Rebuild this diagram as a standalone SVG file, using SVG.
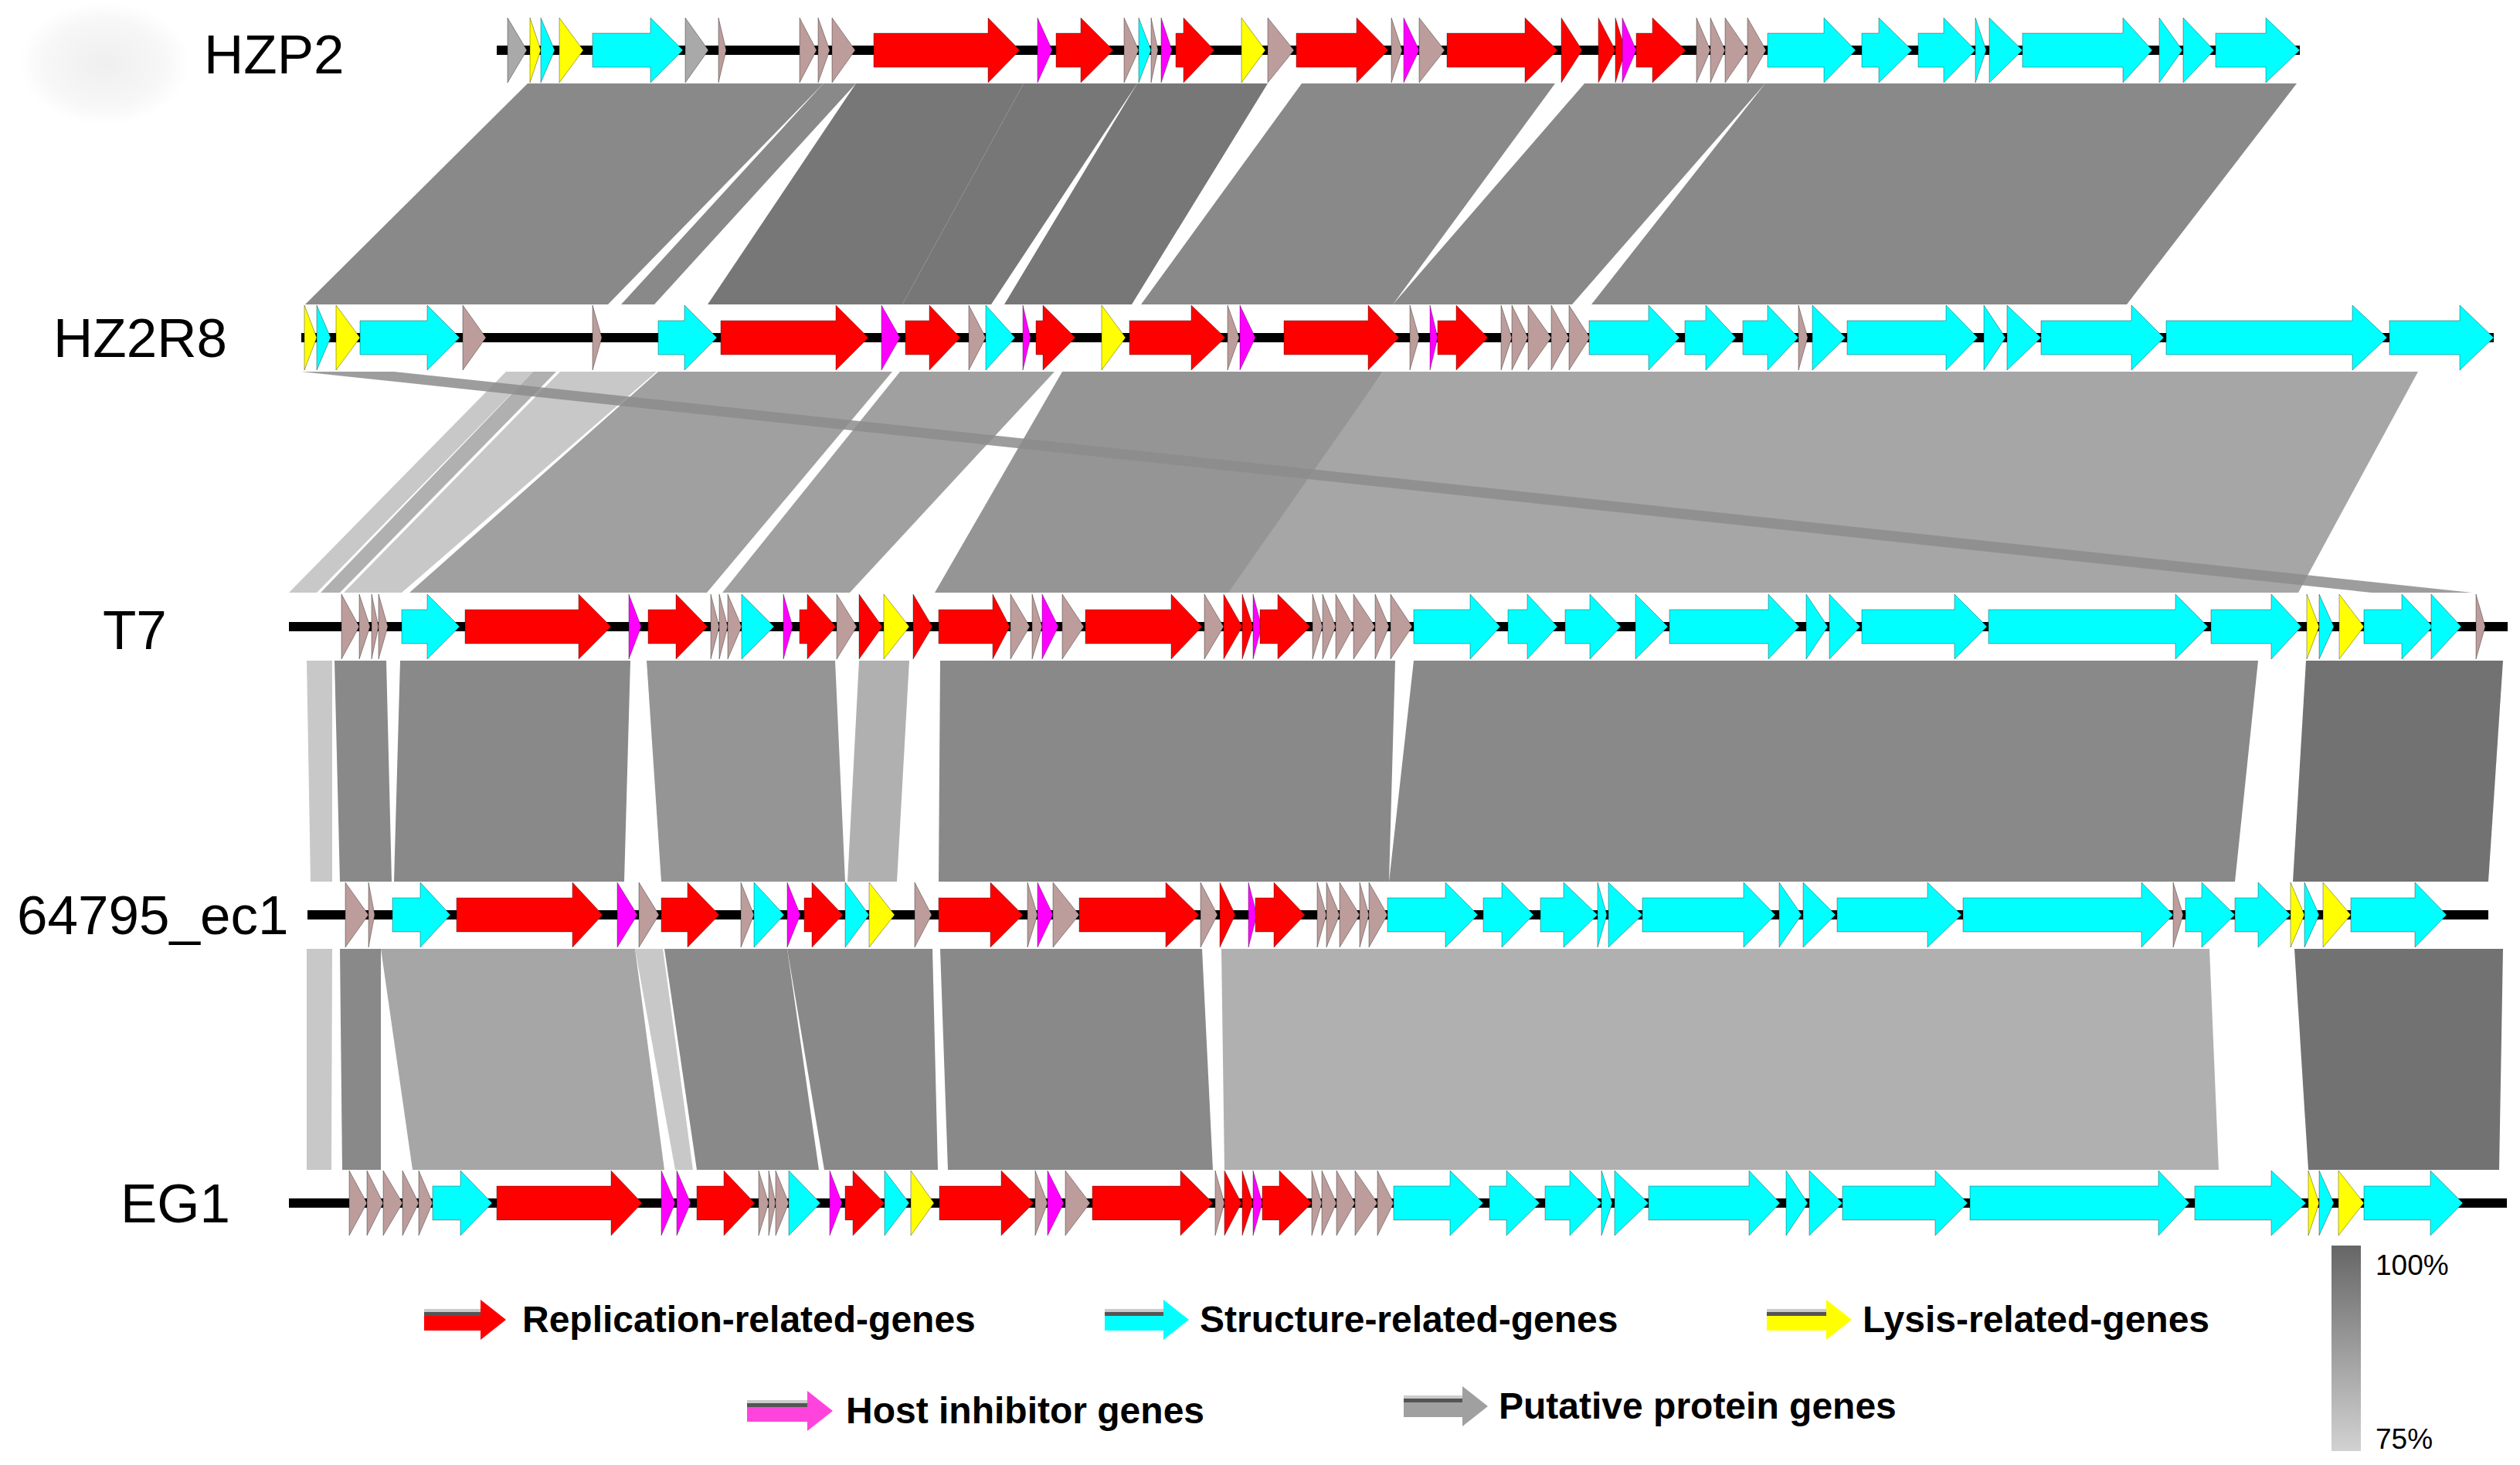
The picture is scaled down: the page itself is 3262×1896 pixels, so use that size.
<svg xmlns="http://www.w3.org/2000/svg" width="3262" height="1896" viewBox="0 0 3262 1896">
<style>
.lbl{font-family:"Liberation Sans",Arial,sans-serif;font-size:71px;fill:#000}
.leg{font-family:"Liberation Sans",Arial,sans-serif;font-size:48px;font-weight:bold;fill:#000}
.pct{font-family:"Liberation Sans",Arial,sans-serif;font-size:37px;fill:#000}
.ln{fill:#000}
.genes polygon{stroke:#000;stroke-opacity:.35;stroke-width:1}
.r{fill:#ff0000}.c{fill:#00ffff}.y{fill:#ffff00}.m{fill:#ff00ff}.b{fill:#bc9d9b}.g{fill:#a9a9a9}
.k1{fill:#898989}.k2{fill:#777777}.k3{fill:#a0a0a0}.k4{fill:#b0b0b0}.k5{fill:#c8c8c8}.k6{fill:#727272}.k7{fill:#a6a6a6}.k8{fill:#959595}
</style>
<defs>
<radialGradient id="blob" cx="0.5" cy="0.5" r="0.5">
<stop offset="0" stop-color="#efefef"/><stop offset="0.7" stop-color="#f7f7f7"/><stop offset="1" stop-color="#ffffff"/>
</radialGradient>
<linearGradient id="scale" x1="0" y1="0" x2="0" y2="1">
<stop offset="0" stop-color="#666666"/><stop offset="1" stop-color="#d2d2d2"/>
</linearGradient>
</defs>
<rect width="3262" height="1896" fill="#ffffff"/>
<ellipse cx="135" cy="82" rx="110" ry="80" fill="url(#blob)"/>

<g id="comparisons">
<!-- HZP2 -> HZ2R8 -->
<polygon class="k1" points="683,108 1066,108 787,394 395,394"/>
<polygon class="k1" points="1066,108 1108,108 847,394 804,394"/>
<polygon class="k2" points="1108,108 1325,108 1168,394 916,394"/>
<polygon class="k2" points="1325,108 1472,108 1283,394 1168,394"/>
<polygon class="k2" points="1472,108 1641,108 1465,394 1300,394"/>
<polygon class="k1" points="1685,108 2013,108 1803,394 1477,394"/>
<polygon class="k1" points="2051,108 2285,108 2035,394 1803,394"/>
<polygon class="k1" points="2285,108 2973,108 2753,394 2060,394"/>
<!-- HZ2R8 -> T7 -->
<polygon class="k5" points="655,481 690,481 410,767 374,767"/>
<polygon class="k4" points="690,481 720,481 440,767 415,767"/>
<polygon class="k5" points="725,481 850,481 520,767 445,767"/>
<polygon class="k3" points="852,481 1155,481 915,767 530,767"/>
<polygon class="k3" points="1165,481 1365,481 1100,767 935,767"/>
<polygon class="k8" points="1375,481 1790,481 1600,767 1210,767"/>
<polygon class="k7" points="1790,481 3130,481 2975,767 1590,767"/>
<polygon fill="#8c8c8c" fill-opacity="0.85" points="390,481 510,481 3200,767 3070,767"/>
<!-- T7 -> 64795_ec1 -->
<polygon class="k5" points="397,855 430,855 430,1141 402,1141"/>
<polygon class="k1" points="433,855 500,855 507,1141 440,1141"/>
<polygon class="k1" points="518,855 816,855 808,1141 510,1141"/>
<polygon class="k8" points="837,855 1081,855 1094,1141 856,1141"/>
<polygon class="k4" points="1112,855 1177,855 1161,1141 1097,1141"/>
<polygon class="k1" points="1217,855 1806,855 1798,1141 1215,1141"/>
<polygon class="k1" points="1830,855 2923,855 2893,1141 1798,1141"/>
<polygon class="k6" points="2985,855 3240,855 3221,1141 2968,1141"/>
<!-- 64795_ec1 -> EG1 -->
<polygon class="k5" points="397,1228 430,1228 429,1514 397,1514"/>
<polygon class="k1" points="440,1228 493,1228 493,1514 443,1514"/>
<polygon class="k7" points="493,1228 822,1228 860,1514 534,1514"/>
<polygon class="k5" points="822,1228 858,1228 897,1514 874,1514"/>
<polygon class="k1" points="860,1228 1019,1228 1060,1514 902,1514"/>
<polygon class="k1" points="1019,1228 1207,1228 1214,1514 1067,1514"/>
<polygon class="k1" points="1217,1228 1556,1228 1570,1514 1227,1514"/>
<polygon class="k4" points="1581,1228 2860,1228 2872,1514 1585,1514"/>
<polygon class="k6" points="2970,1228 3240,1228 3235,1514 2988,1514"/>
</g>

<g id="track-HZP2">
<text class="lbl" x="264" y="95">HZP2</text>
<rect class="ln" x="643" y="59" width="2334" height="12"/>
<g class="genes">
<polygon class="g" points="657,23 682,65 657,107"/>
<polygon class="y" points="686,23 700,65 686,107"/>
<polygon class="c" points="700,23 718,65 700,107"/>
<polygon class="y" points="724,23 755,65 724,107"/>
<polygon class="c" points="767,43 842,43 842,23 884,65 842,107 842,87 767,87"/>
<polygon class="g" points="887,23 917,65 887,107"/>
<polygon class="b" points="930,23 940,65 930,107"/>
<polygon class="b" points="1035,23 1057,65 1035,107"/>
<polygon class="b" points="1059,23 1074,65 1059,107"/>
<polygon class="b" points="1077,23 1107,65 1077,107"/>
<polygon class="r" points="1131,43 1279,43 1279,23 1320,65 1279,107 1279,87 1131,87"/>
<polygon class="m" points="1343,23 1362,65 1343,107"/>
<polygon class="r" points="1367,43 1399,43 1399,23 1441,65 1399,107 1399,87 1367,87"/>
<polygon class="b" points="1455,23 1474,65 1455,107"/>
<polygon class="c" points="1474,23 1490,65 1474,107"/>
<polygon class="b" points="1490,23 1499,65 1490,107"/>
<polygon class="m" points="1503,23 1517,65 1503,107"/>
<polygon class="r" points="1522,43 1532,43 1532,23 1572,65 1532,107 1532,87 1522,87"/>
<polygon class="y" points="1607,23 1638,65 1607,107"/>
<polygon class="b" points="1641,23 1675,65 1641,107"/>
<polygon class="r" points="1678,43 1756,43 1756,23 1797,65 1756,107 1756,87 1678,87"/>
<polygon class="b" points="1801,23 1815,65 1801,107"/>
<polygon class="m" points="1817,23 1837,65 1817,107"/>
<polygon class="b" points="1837,23 1870,65 1837,107"/>
<polygon class="r" points="1873,43 1974,43 1974,23 2016,65 1974,107 1974,87 1873,87"/>
<polygon class="r" points="2021,23 2048,65 2021,107"/>
<polygon class="r" points="2069,23 2091,65 2069,107"/>
<polygon class="r" points="2091,23 2104,65 2091,107"/>
<polygon class="m" points="2100,23 2118,65 2100,107"/>
<polygon class="r" points="2118,43 2139,43 2139,23 2182,65 2139,107 2139,87 2118,87"/>
<polygon class="b" points="2196,23 2214,65 2196,107"/>
<polygon class="b" points="2214,23 2233,65 2214,107"/>
<polygon class="b" points="2233,23 2262,65 2233,107"/>
<polygon class="b" points="2262,23 2286,65 2262,107"/>
<polygon class="c" points="2288,43 2361,43 2361,23 2402,65 2361,107 2361,87 2288,87"/>
<polygon class="c" points="2410,43 2432,43 2432,23 2475,65 2432,107 2432,87 2410,87"/>
<polygon class="c" points="2483,43 2516,43 2516,23 2557,65 2516,107 2516,87 2483,87"/>
<polygon class="c" points="2557,23 2571,65 2557,107"/>
<polygon class="c" points="2575,23 2618,65 2575,107"/>
<polygon class="c" points="2618,43 2748,43 2748,23 2786,65 2748,107 2748,87 2618,87"/>
<polygon class="c" points="2795,23 2825,65 2795,107"/>
<polygon class="c" points="2826,23 2866,65 2826,107"/>
<polygon class="c" points="2868,43 2933,43 2933,23 2977,65 2933,107 2933,87 2868,87"/>
</g>
</g>

<g id="track-HZ2R8">
<text class="lbl" x="69" y="462">HZ2R8</text>
<rect class="ln" x="390" y="431" width="2838" height="12"/>
<g class="genes">
<polygon class="y" points="394,395 410,437 394,479"/>
<polygon class="c" points="410,395 428,437 410,479"/>
<polygon class="y" points="435,395 466,437 435,479"/>
<polygon class="c" points="466,415 553,415 553,395 595,437 553,479 553,459 466,459"/>
<polygon class="b" points="599,395 629,437 599,479"/>
<polygon class="b" points="767,395 779,437 767,479"/>
<polygon class="c" points="852,415 886,415 886,395 928,437 886,479 886,459 852,459"/>
<polygon class="r" points="933,415 1082,415 1082,395 1124,437 1082,479 1082,459 933,459"/>
<polygon class="m" points="1141,395 1165,437 1141,479"/>
<polygon class="r" points="1172,415 1203,415 1203,395 1243,437 1203,479 1203,459 1172,459"/>
<polygon class="b" points="1254,395 1276,437 1254,479"/>
<polygon class="c" points="1276,395 1314,437 1276,479"/>
<polygon class="m" points="1324,395 1334,437 1324,479"/>
<polygon class="r" points="1341,415 1350,415 1350,395 1392,437 1350,479 1350,459 1341,459"/>
<polygon class="y" points="1426,395 1457,437 1426,479"/>
<polygon class="r" points="1462,415 1542,415 1542,395 1586,437 1542,479 1542,459 1462,459"/>
<polygon class="b" points="1589,395 1604,437 1589,479"/>
<polygon class="m" points="1605,395 1625,437 1605,479"/>
<polygon class="r" points="1662,415 1771,415 1771,395 1811,437 1771,479 1771,459 1662,459"/>
<polygon class="b" points="1825,395 1837,437 1825,479"/>
<polygon class="m" points="1851,395 1861,437 1851,479"/>
<polygon class="r" points="1861,415 1885,415 1885,395 1926,437 1885,479 1885,459 1861,459"/>
<polygon class="b" points="1943,395 1957,437 1943,479"/>
<polygon class="b" points="1957,395 1978,437 1957,479"/>
<polygon class="b" points="1978,395 2008,437 1978,479"/>
<polygon class="b" points="2008,395 2031,437 2008,479"/>
<polygon class="b" points="2031,395 2058,437 2031,479"/>
<polygon class="c" points="2057,415 2134,415 2134,395 2174,437 2134,479 2134,459 2057,459"/>
<polygon class="c" points="2181,415 2208,415 2208,395 2247,437 2208,479 2208,459 2181,459"/>
<polygon class="c" points="2256,415 2288,415 2288,395 2328,437 2288,479 2288,459 2256,459"/>
<polygon class="b" points="2328,395 2340,437 2328,479"/>
<polygon class="c" points="2346,395 2389,437 2346,479"/>
<polygon class="c" points="2391,415 2519,415 2519,395 2560,437 2519,479 2519,459 2391,459"/>
<polygon class="c" points="2568,395 2596,437 2568,479"/>
<polygon class="c" points="2598,395 2642,437 2598,479"/>
<polygon class="c" points="2642,415 2759,415 2759,395 2801,437 2759,479 2759,459 2642,459"/>
<polygon class="c" points="2804,415 3045,415 3045,395 3090,437 3045,479 3045,459 2804,459"/>
<polygon class="c" points="3093,415 3184,415 3184,395 3228,437 3184,479 3184,459 3093,459"/>
</g>
</g>

<g id="track-T7">
<text class="lbl" x="133" y="840">T7</text>
<rect class="ln" x="374" y="805" width="2872" height="12"/>
<g class="genes">
<polygon class="b" points="442,769 465,811 442,853"/>
<polygon class="b" points="465,769 479,811 465,853"/>
<polygon class="b" points="481,769 490,811 481,853"/>
<polygon class="b" points="490,769 502,811 490,853"/>
<polygon class="c" points="520,789 553,789 553,769 595,811 553,853 553,833 520,833"/>
<polygon class="r" points="602,789 749,789 749,769 791,811 749,853 749,833 602,833"/>
<polygon class="m" points="814,769 830,811 814,853"/>
<polygon class="r" points="839,789 875,789 875,769 916,811 875,853 875,833 839,833"/>
<polygon class="b" points="920,769 931,811 920,853"/>
<polygon class="b" points="931,769 942,811 931,853"/>
<polygon class="b" points="942,769 960,811 942,853"/>
<polygon class="c" points="960,769 1002,811 960,853"/>
<polygon class="m" points="1014,769 1026,811 1014,853"/>
<polygon class="r" points="1035,789 1045,789 1045,769 1082,811 1045,853 1045,833 1035,833"/>
<polygon class="b" points="1083,769 1109,811 1083,853"/>
<polygon class="r" points="1112,769 1142,811 1112,853"/>
<polygon class="y" points="1144,769 1177,811 1144,853"/>
<polygon class="r" points="1182,769 1207,811 1182,853"/>
<polygon class="r" points="1215,789 1285,789 1285,769 1307,811 1285,853 1285,833 1215,833"/>
<polygon class="b" points="1308,769 1333,811 1308,853"/>
<polygon class="b" points="1336,769 1349,811 1336,853"/>
<polygon class="m" points="1349,769 1370,811 1349,853"/>
<polygon class="b" points="1375,769 1403,811 1375,853"/>
<polygon class="r" points="1405,789 1516,789 1516,769 1556,811 1516,853 1516,833 1405,833"/>
<polygon class="b" points="1559,769 1584,811 1559,853"/>
<polygon class="r" points="1584,769 1608,811 1584,853"/>
<polygon class="r" points="1608,769 1622,811 1608,853"/>
<polygon class="m" points="1622,769 1633,811 1622,853"/>
<polygon class="r" points="1631,789 1654,789 1654,769 1696,811 1654,853 1654,833 1631,833"/>
<polygon class="b" points="1699,769 1712,811 1699,853"/>
<polygon class="b" points="1712,769 1729,811 1712,853"/>
<polygon class="b" points="1729,769 1752,811 1729,853"/>
<polygon class="b" points="1752,769 1780,811 1752,853"/>
<polygon class="b" points="1780,769 1798,811 1780,853"/>
<polygon class="b" points="1800,769 1828,811 1800,853"/>
<polygon class="c" points="1830,789 1903,789 1903,769 1942,811 1903,853 1903,833 1830,833"/>
<polygon class="c" points="1952,789 1977,789 1977,769 2016,811 1977,853 1977,833 1952,833"/>
<polygon class="c" points="2026,789 2058,789 2058,769 2098,811 2058,853 2058,833 2026,833"/>
<polygon class="c" points="2117,769 2159,811 2117,853"/>
<polygon class="c" points="2161,789 2289,789 2289,769 2329,811 2289,853 2289,833 2161,833"/>
<polygon class="c" points="2338,769 2366,811 2338,853"/>
<polygon class="c" points="2368,769 2408,811 2368,853"/>
<polygon class="c" points="2410,789 2530,789 2530,769 2572,811 2530,853 2530,833 2410,833"/>
<polygon class="c" points="2574,789 2816,789 2816,769 2858,811 2816,853 2816,833 2574,833"/>
<polygon class="c" points="2862,789 2940,789 2940,769 2979,811 2940,853 2940,833 2862,833"/>
<polygon class="y" points="2986,769 3002,811 2986,853"/>
<polygon class="c" points="3002,769 3021,811 3002,853"/>
<polygon class="y" points="3028,769 3060,811 3028,853"/>
<polygon class="c" points="3060,789 3109,789 3109,769 3149,811 3109,853 3109,833 3060,833"/>
<polygon class="c" points="3147,769 3186,811 3147,853"/>
<polygon class="b" points="3205,769 3217,811 3205,853"/>
</g>
</g>

<g id="track-64795_ec1">
<text class="lbl" x="22" y="1209">64795_ec1</text>
<rect class="ln" x="398" y="1178" width="2823" height="12"/>
<g class="genes">
<polygon class="b" points="447,1142 477,1184 447,1226"/>
<polygon class="b" points="477,1142 485,1184 477,1226"/>
<polygon class="c" points="508,1162 544,1162 544,1142 583,1184 544,1226 544,1206 508,1206"/>
<polygon class="r" points="591,1162 741,1162 741,1142 780,1184 741,1226 741,1206 591,1206"/>
<polygon class="m" points="799,1142 825,1184 799,1226"/>
<polygon class="b" points="827,1142 853,1184 827,1226"/>
<polygon class="r" points="856,1162 890,1162 890,1142 931,1184 890,1226 890,1206 856,1206"/>
<polygon class="b" points="959,1142 976,1184 959,1226"/>
<polygon class="c" points="976,1142 1015,1184 976,1226"/>
<polygon class="m" points="1019,1142 1036,1184 1019,1226"/>
<polygon class="r" points="1041,1162 1051,1162 1051,1142 1091,1184 1051,1226 1051,1206 1041,1206"/>
<polygon class="c" points="1094,1142 1125,1184 1094,1226"/>
<polygon class="y" points="1125,1142 1158,1184 1125,1226"/>
<polygon class="b" points="1184,1142 1206,1184 1184,1226"/>
<polygon class="r" points="1215,1162 1282,1162 1282,1142 1324,1184 1282,1226 1282,1206 1215,1206"/>
<polygon class="b" points="1330,1142 1343,1184 1330,1226"/>
<polygon class="m" points="1343,1142 1363,1184 1343,1226"/>
<polygon class="b" points="1363,1142 1397,1184 1363,1226"/>
<polygon class="r" points="1397,1162 1509,1162 1509,1142 1552,1184 1509,1226 1509,1206 1397,1206"/>
<polygon class="b" points="1554,1142 1576,1184 1554,1226"/>
<polygon class="r" points="1579,1142 1599,1184 1579,1226"/>
<polygon class="m" points="1616,1142 1627,1184 1616,1226"/>
<polygon class="r" points="1625,1162 1649,1162 1649,1142 1689,1184 1649,1226 1649,1206 1625,1206"/>
<polygon class="b" points="1705,1142 1717,1184 1705,1226"/>
<polygon class="b" points="1717,1142 1734,1184 1717,1226"/>
<polygon class="b" points="1734,1142 1760,1184 1734,1226"/>
<polygon class="b" points="1760,1142 1772,1184 1760,1226"/>
<polygon class="b" points="1772,1142 1796,1184 1772,1226"/>
<polygon class="c" points="1796,1162 1871,1162 1871,1142 1913,1184 1871,1226 1871,1206 1796,1206"/>
<polygon class="c" points="1920,1162 1944,1162 1944,1142 1985,1184 1944,1226 1944,1206 1920,1206"/>
<polygon class="c" points="1994,1162 2024,1162 2024,1142 2068,1184 2024,1226 2024,1206 1994,1206"/>
<polygon class="c" points="2068,1142 2080,1184 2068,1226"/>
<polygon class="c" points="2082,1142 2126,1184 2082,1226"/>
<polygon class="c" points="2126,1162 2257,1162 2257,1142 2298,1184 2257,1226 2257,1206 2126,1206"/>
<polygon class="c" points="2303,1142 2332,1184 2303,1226"/>
<polygon class="c" points="2334,1142 2376,1184 2334,1226"/>
<polygon class="c" points="2378,1162 2495,1162 2495,1142 2539,1184 2495,1226 2495,1206 2378,1206"/>
<polygon class="c" points="2541,1162 2772,1162 2772,1142 2813,1184 2772,1226 2772,1206 2541,1206"/>
<polygon class="b" points="2813,1142 2826,1184 2813,1226"/>
<polygon class="c" points="2829,1162 2850,1162 2850,1142 2893,1184 2850,1226 2850,1206 2829,1206"/>
<polygon class="c" points="2893,1162 2923,1162 2923,1142 2965,1184 2923,1226 2923,1206 2893,1206"/>
<polygon class="y" points="2965,1142 2983,1184 2965,1226"/>
<polygon class="c" points="2983,1142 3002,1184 2983,1226"/>
<polygon class="y" points="3007,1142 3043,1184 3007,1226"/>
<polygon class="c" points="3043,1162 3126,1162 3126,1142 3167,1184 3126,1226 3126,1206 3043,1206"/>
</g>
</g>

<g id="track-EG1">
<text class="lbl" x="156" y="1582">EG1</text>
<rect class="ln" x="374" y="1551" width="2871" height="12"/>
<g class="genes">
<polygon class="b" points="452,1515 475,1557 452,1599"/>
<polygon class="b" points="475,1515 496,1557 475,1599"/>
<polygon class="b" points="496,1515 521,1557 496,1599"/>
<polygon class="b" points="521,1515 542,1557 521,1599"/>
<polygon class="b" points="542,1515 560,1557 542,1599"/>
<polygon class="c" points="560,1535 596,1535 596,1515 637,1557 596,1599 596,1579 560,1579"/>
<polygon class="r" points="643,1535 791,1535 791,1515 831,1557 791,1599 791,1579 643,1579"/>
<polygon class="m" points="856,1515 874,1557 856,1599"/>
<polygon class="m" points="876,1515 894,1557 876,1599"/>
<polygon class="r" points="902,1535 937,1535 937,1515 977,1557 937,1599 937,1579 902,1579"/>
<polygon class="b" points="982,1515 995,1557 982,1599"/>
<polygon class="b" points="995,1515 1004,1557 995,1599"/>
<polygon class="b" points="1004,1515 1021,1557 1004,1599"/>
<polygon class="c" points="1021,1515 1062,1557 1021,1599"/>
<polygon class="m" points="1074,1515 1090,1557 1074,1599"/>
<polygon class="r" points="1094,1535 1104,1535 1104,1515 1145,1557 1104,1599 1104,1579 1094,1579"/>
<polygon class="c" points="1145,1515 1177,1557 1145,1599"/>
<polygon class="y" points="1179,1515 1209,1557 1179,1599"/>
<polygon class="r" points="1216,1535 1296,1535 1296,1515 1338,1557 1296,1599 1296,1579 1216,1579"/>
<polygon class="b" points="1340,1515 1356,1557 1340,1599"/>
<polygon class="m" points="1356,1515 1377,1557 1356,1599"/>
<polygon class="b" points="1379,1515 1411,1557 1379,1599"/>
<polygon class="r" points="1414,1535 1528,1535 1528,1515 1570,1557 1528,1599 1528,1579 1414,1579"/>
<polygon class="b" points="1573,1515 1585,1557 1573,1599"/>
<polygon class="r" points="1585,1515 1607,1557 1585,1599"/>
<polygon class="r" points="1608,1515 1622,1557 1608,1599"/>
<polygon class="m" points="1622,1515 1634,1557 1622,1599"/>
<polygon class="r" points="1634,1535 1656,1535 1656,1515 1698,1557 1656,1599 1656,1579 1634,1579"/>
<polygon class="b" points="1698,1515 1711,1557 1698,1599"/>
<polygon class="b" points="1711,1515 1730,1557 1711,1599"/>
<polygon class="b" points="1730,1515 1754,1557 1730,1599"/>
<polygon class="b" points="1754,1515 1783,1557 1754,1599"/>
<polygon class="b" points="1783,1515 1804,1557 1783,1599"/>
<polygon class="c" points="1804,1535 1877,1535 1877,1515 1920,1557 1877,1599 1877,1579 1804,1579"/>
<polygon class="c" points="1928,1535 1950,1535 1950,1515 1993,1557 1950,1599 1950,1579 1928,1579"/>
<polygon class="c" points="2000,1535 2032,1535 2032,1515 2073,1557 2032,1599 2032,1579 2000,1579"/>
<polygon class="c" points="2073,1515 2087,1557 2073,1599"/>
<polygon class="c" points="2090,1515 2134,1557 2090,1599"/>
<polygon class="c" points="2134,1535 2264,1535 2264,1515 2304,1557 2264,1599 2264,1579 2134,1579"/>
<polygon class="c" points="2312,1515 2340,1557 2312,1599"/>
<polygon class="c" points="2342,1515 2385,1557 2342,1599"/>
<polygon class="c" points="2385,1535 2505,1535 2505,1515 2547,1557 2505,1599 2505,1579 2385,1579"/>
<polygon class="c" points="2550,1535 2794,1535 2794,1515 2834,1557 2794,1599 2794,1579 2550,1579"/>
<polygon class="c" points="2841,1535 2940,1535 2940,1515 2985,1557 2940,1599 2940,1579 2841,1579"/>
<polygon class="y" points="2988,1515 3002,1557 2988,1599"/>
<polygon class="c" points="3002,1515 3021,1557 3002,1599"/>
<polygon class="y" points="3027,1515 3060,1557 3027,1599"/>
<polygon class="c" points="3060,1535 3146,1535 3146,1515 3188,1557 3146,1599 3146,1579 3060,1579"/>
</g>
</g>

<g id="legend">
<g id="legend-replication">
<polygon class="r" points="549,1694 622,1694 622,1682 655,1708 622,1734 622,1722 549,1722"/>
<rect x="549" y="1694" width="73" height="4" fill="#cccccc"/><rect x="549" y="1698" width="73" height="5" fill="#555555"/>
<text class="leg" x="676" y="1724">Replication-related-genes</text>
</g>
<g id="legend-structure">
<polygon class="c" points="1430,1694 1506,1694 1506,1682 1539,1708 1506,1734 1506,1722 1430,1722"/>
<rect x="1430" y="1694" width="76" height="4" fill="#cccccc"/><rect x="1430" y="1698" width="76" height="5" fill="#555555"/>
<text class="leg" x="1553" y="1724">Structure-related-genes</text>
</g>
<g id="legend-lysis">
<polygon class="y" points="2287,1694 2364,1694 2364,1682 2397,1708 2364,1734 2364,1722 2287,1722"/>
<rect x="2287" y="1694" width="77" height="4" fill="#cccccc"/><rect x="2287" y="1698" width="77" height="5" fill="#555555"/>
<text class="leg" x="2411" y="1724">Lysis-related-genes</text>
</g>
<g id="legend-host">
<polygon fill="#ff44dd" points="967,1812 1045,1812 1045,1800 1078,1826 1045,1852 1045,1840 967,1840"/>
<rect x="967" y="1812" width="78" height="4" fill="#cccccc"/><rect x="967" y="1816" width="78" height="5" fill="#555555"/>
<text class="leg" x="1095" y="1842">Host inhibitor genes</text>
</g>
<g id="legend-putative">
<polygon fill="#a0a0a0" points="1817,1806 1893,1806 1893,1794 1926,1820 1893,1846 1893,1834 1817,1834"/>
<rect x="1817" y="1806" width="76" height="4" fill="#cccccc"/><rect x="1817" y="1810" width="76" height="5" fill="#555555"/>
<text class="leg" x="1940" y="1836">Putative protein genes</text>
</g>
<g id="legend-scale">
<rect x="3018" y="1612" width="38" height="266" fill="url(#scale)"/>
<text class="pct" x="3075" y="1650">100%</text>
<text class="pct" x="3075" y="1875">75%</text>
</g>
</g>
</svg>
